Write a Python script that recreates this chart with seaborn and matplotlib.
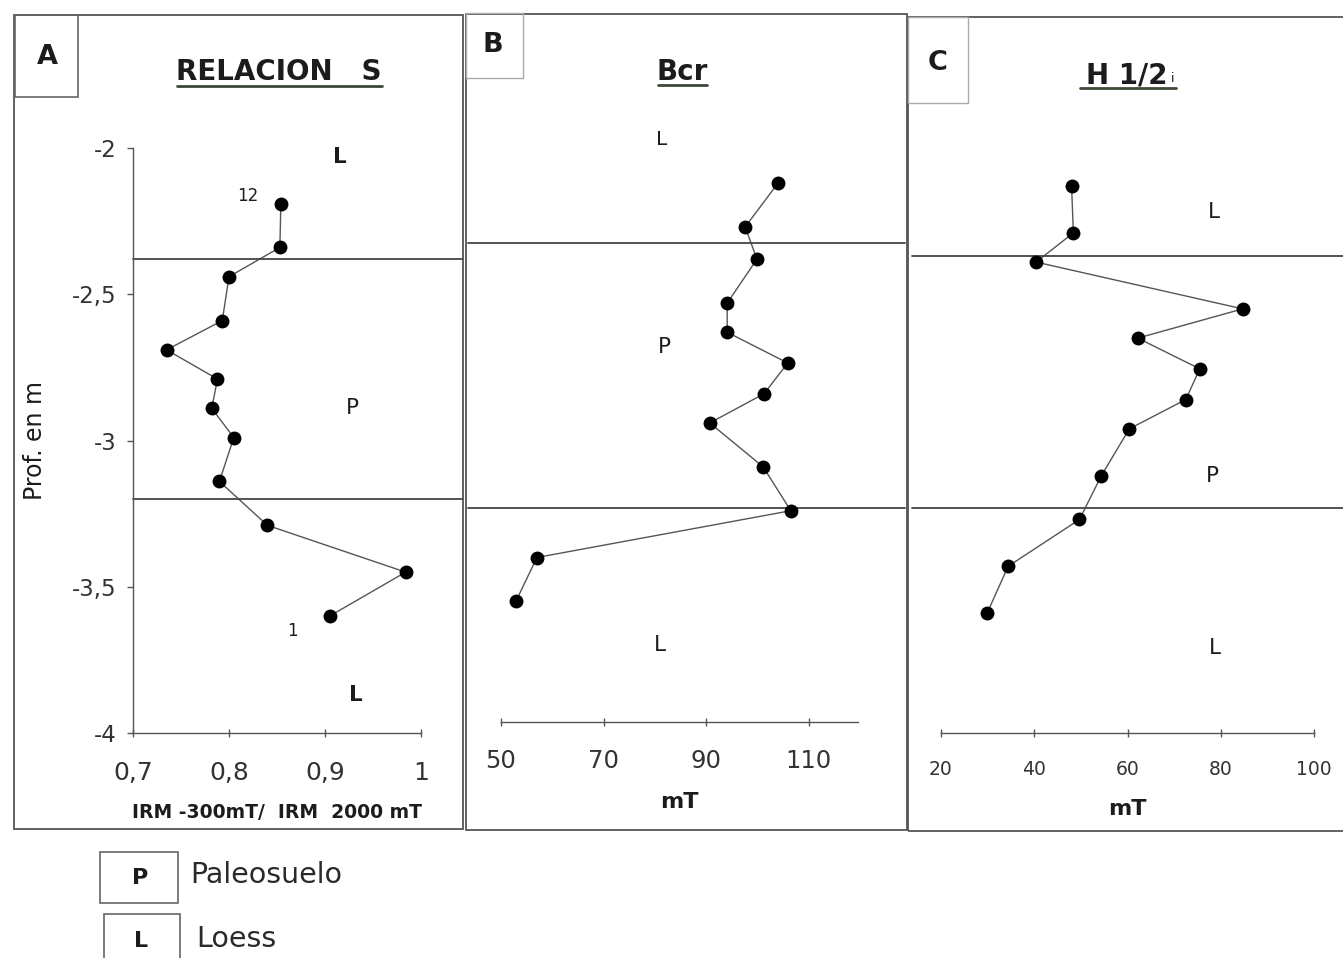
import pandas as pd
import seaborn as sns
import matplotlib.pyplot as plt
from matplotlib.patches import Rectangle
from matplotlib.lines import Line2D

# Datos (profundidad en m)
prof_a = [-2.19, -2.34, -2.44, -2.59, -2.69, -2.79, -2.89, -2.99, -3.14, -3.29, -3.45, -3.60]
rel_s = [0.854, 0.853, 0.800, 0.793, 0.735, 0.788, 0.782, 0.805, 0.790, 0.840, 0.984, 0.905]

prof_b = [-2.12, -2.27, -2.38, -2.53, -2.63, -2.735, -2.84, -2.94, -3.09, -3.24, -3.40, -3.55]
bcr = [104.0, 97.6, 99.9, 94.1, 94.1, 105.9, 101.3, 90.7, 101.1, 106.5, 57.0, 52.9]

prof_c = [-2.13, -2.29, -2.39, -2.55, -2.65, -2.755, -2.86, -2.96, -3.12, -3.27, -3.43, -3.59]
h_half = [48.0, 48.4, 40.4, 84.7, 62.2, 75.5, 72.5, 60.4, 54.4, 49.7, 34.4, 29.9]

# limites paleosuelo / loess en cada panel
limites_a = [-2.38, -3.20]
limites_b = [-2.325, -3.23]
limites_c = [-2.37, -3.23]

ticks_a = [0.7, 0.8, 0.9, 1.0]
ticks_a_lab = ["0,7", "0,8", "0,9", "1"]
ticks_b = [50, 70, 90, 110]
ticks_c = [20, 40, 60, 80, 100]
ticks_y = [-2, -2.5, -3, -3.5, -4]
ticks_y_lab = ["-2", "-2,5", "-3", "-3,5", "-4"]

sns.set_theme(style="white")
plt.rcParams['font.family'] = ['DejaVu Sans']

W, H = 1343, 958
fig = plt.figure(figsize=(13.43, 9.58), dpi=100)

def fx(px):
    return px / W

def fy(py):
    return 1 - py / H

def caja(x0, y0, x1, y1, color="#555555", lw=1.3):
    fig.patches.append(Rectangle((fx(x0), fy(y1)), fx(x1) - fx(x0), fy(y0) - fy(y1),
                                 transform=fig.transFigure, fill=False,
                                 edgecolor=color, linewidth=lw))

def linea(x0, x1, y, color, lw):
    fig.add_artist(Line2D([fx(x0), fx(x1)], [fy(y), fy(y)], color=color, linewidth=lw))

texto = "#1c1c1c"
gris = "#555555"

def panel(left, right, data, xcol, xlim, xticks, xlabels, tsize, lpad):
    ax = fig.add_axes([fx(left), fy(733), fx(right) - fx(left), fy(148) - fy(733)])
    sns.lineplot(data=data, x=xcol, y="prof", sort=False, estimator=None,
                 color=gris, linewidth=1.0, ax=ax)
    sns.scatterplot(data=data, x=xcol, y="prof", color="black", s=100,
                    edgecolor="black", linewidth=0, zorder=3, ax=ax)
    ax.set_xlim(*xlim)
    ax.set_ylim(-4, -2)
    ax.set_xticks(xticks)
    ax.set_xticklabels(xlabels)
    for s in ["top", "right"]:
        ax.spines[s].set_visible(False)
    ax.spines["bottom"].set_color(gris)
    ax.spines["bottom"].set_linewidth(1.0)
    ax.tick_params(axis="x", direction="inout", length=6, width=1, color=gris,
                   pad=lpad, labelsize=tsize, labelcolor="#333333", bottom=True)
    ax.set_ylabel("")
    ax.set_xlabel("")
    return ax

# Panel A
df_a = pd.DataFrame({"prof": prof_a, "s": rel_s})
ax_a = panel(133, 421, df_a, "s", (0.7, 1.0), ticks_a, ticks_a_lab, 18, 17)
ax_a.set_yticks(ticks_y)
ax_a.set_yticklabels(ticks_y_lab)
ax_a.spines["left"].set_color(gris)
ax_a.spines["left"].set_linewidth(1.0)
ax_a.tick_params(axis="y", direction="out", length=4, width=1, color=gris, pad=8,
                 labelsize=16.5, labelcolor="#333333", left=True)
ax_a.set_xlabel("IRM -300mT/  IRM  2000 mT", fontsize=13.5, fontweight="bold",
                color=texto, labelpad=13)
for y in limites_a:
    ax_a.axhline(y, xmin=0, xmax=1.146, color="#444444", linewidth=1.3, clip_on=False)
ax_a.text(0.916, -2.03, "L", fontsize=15.5, fontweight="bold", color=texto, ha="center", va="center")
ax_a.text(0.820, -2.165, "12", fontsize=12, color=texto, ha="center", va="center")
ax_a.text(0.928, -2.89, "P", fontsize=15.5, color=texto, ha="center", va="center")
ax_a.text(0.866, -3.65, "1", fontsize=12, color=texto, ha="center", va="center")
ax_a.text(0.932, -3.87, "L", fontsize=15.5, fontweight="bold", color=texto, ha="center", va="center")

# Panel B
df_b = pd.DataFrame({"prof": prof_b, "bcr": bcr})
ax_b = panel(501, 858, df_b, "bcr", (50, 119.6), ticks_b, [str(t) for t in ticks_b], 17.5, 16)
ax_b.spines["left"].set_visible(False)
ax_b.spines["bottom"].set_position(("data", -3.963))
ax_b.set_yticks([])
ax_b.set_xlabel("mT", fontsize=16, fontweight="bold", color=texto, labelpad=14)
for y in limites_b:
    ax_b.axhline(y, xmin=-0.092, xmax=1.132, color="#444444", linewidth=1.3, clip_on=False)
ax_b.text(81.4, -1.97, "L", fontsize=14.5, color=texto, ha="center", va="center")
ax_b.text(81.8, -2.68, "P", fontsize=15.5, color=texto, ha="center", va="center")
ax_b.text(81.0, -3.70, "L", fontsize=15.5, color=texto, ha="center", va="center")

# Panel C
df_c = pd.DataFrame({"prof": prof_c, "h": h_half})
ax_c = panel(941, 1314, df_c, "h", (20, 100), ticks_c, [str(t) for t in ticks_c], 13.5, 16.5)
ax_c.spines["left"].set_visible(False)
ax_c.set_yticks([])
ax_c.set_xlabel("mT", fontsize=16, fontweight="bold", color=texto, labelpad=14)
for y in limites_c:
    ax_c.axhline(y, xmin=-0.078, xmax=1.078, color="#444444", linewidth=1.3, clip_on=False)
ax_c.text(78.5, -2.22, "L", fontsize=15.5, color=texto, ha="center", va="center")
ax_c.text(78.3, -3.12, "P", fontsize=15.5, color=texto, ha="center", va="center")
ax_c.text(78.7, -3.71, "L", fontsize=15.5, color=texto, ha="center", va="center")

# eje vertical
fig.text(fx(35), fy(440), "Prof. en m", rotation=90, fontsize=17, color=texto,
         ha="center", va="center")

# marcos de los paneles
caja(14, 15, 463, 829)
caja(466, 14, 907, 830)
caja(908, 17, 1350, 831)
caja(15, 15, 78, 97, color="#666666", lw=1.2)
caja(466, 13, 523, 78, color="#aaaaaa", lw=1.0)
caja(908, 17, 968, 103, color="#aaaaaa", lw=1.0)

fig.text(fx(47), fy(57), "A", fontsize=19.5, fontweight="bold", color=texto, ha="center", va="center")
fig.text(fx(493), fy(45), "B", fontsize=19.5, fontweight="bold", color=texto, ha="center", va="center")
fig.text(fx(938), fy(63), "C", fontsize=19.5, fontweight="bold", color=texto, ha="center", va="center")

# titulos subrayados
verde = "#3f4a36"
fig.text(fx(279), fy(72), "RELACION   S", fontsize=20, fontweight="bold", color=texto,
         ha="center", va="center")
linea(177, 382, 86, verde, 2.0)
fig.text(fx(682), fy(72), "Bcr", fontsize=20, fontweight="bold", color=texto,
         ha="center", va="center")
linea(658, 707, 85, verde, 2.0)
fig.text(fx(1168), fy(75), "H 1/2", fontsize=20, fontweight="bold", color=texto,
         ha="right", va="center")
fig.text(fx(1171), fy(78), "i", fontsize=9, color=texto, ha="left", va="center")
linea(1080, 1176, 88, verde, 2.0)

# leyenda
caja(100, 852, 178, 903, color="#666666", lw=1.2)
caja(104, 914, 180, 965, color="#666666", lw=1.2)
fig.text(fx(140), fy(878), "P", fontsize=16, fontweight="bold", color=texto, ha="center", va="center")
fig.text(fx(141), fy(941), "L", fontsize=16, fontweight="bold", color=texto, ha="center", va="center")
fig.text(fx(190), fy(875), "Paleosuelo", fontsize=20.5, color="#2a2a2a", ha="left", va="center")
fig.text(fx(196), fy(939), "Loess", fontsize=20.5, color="#2a2a2a", ha="left", va="center")

fig.savefig("out.png", dpi=100, facecolor="white")
